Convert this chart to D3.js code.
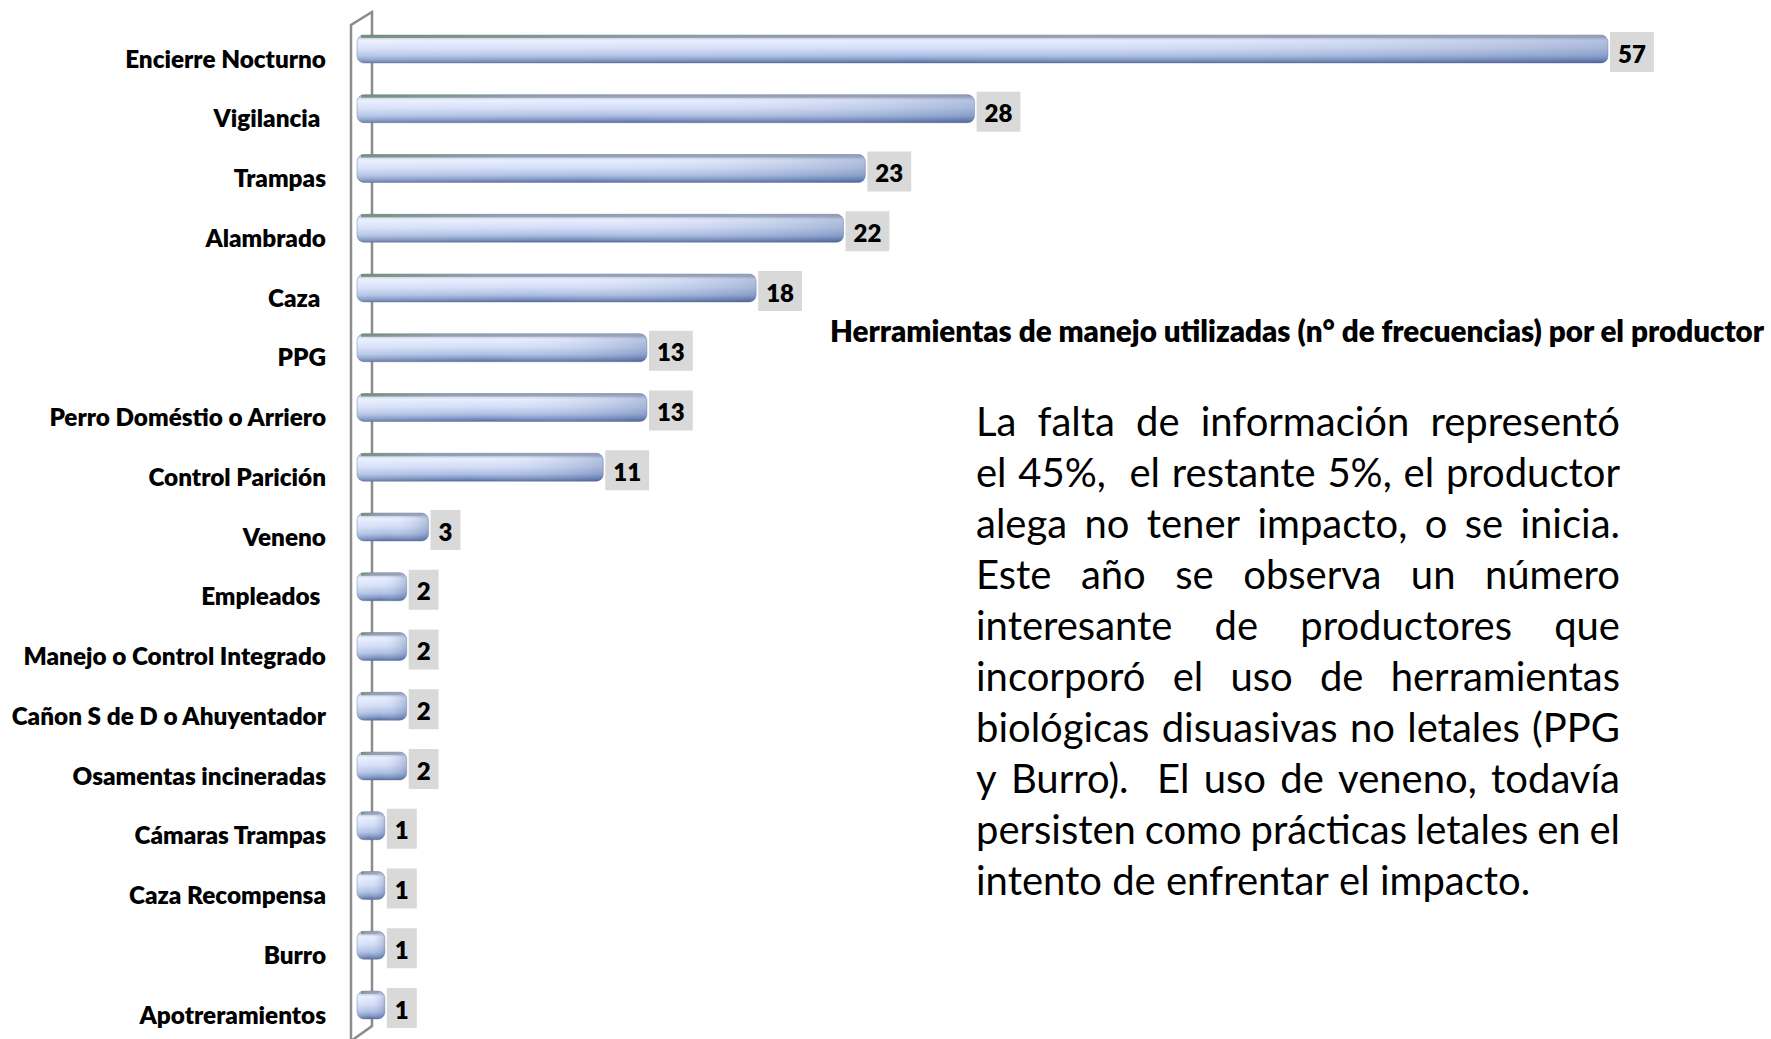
<!DOCTYPE html>
<html>
<head>
<meta charset="utf-8">
<script src="https://cdn.jsdelivr.net/npm/d3@7"></script>
<style>
  body{margin:0;background:#fff;}
  text{font-family:Lato,'Open Sans',sans-serif;white-space:pre;}
</style>
</head>
<body>
<svg class="graph"></svg>
<script>
// tools and how often producers used them
let categories=['Encierre Nocturno','Vigilancia ','Trampas','Alambrado','Caza ','PPG',
  'Perro Doméstio o Arriero','Control Parición','Veneno','Empleados ',
  'Manejo o Control Integrado','Cañon S de D o Ahuyentador','Osamentas incineradas',
  'Cámaras Trampas','Caza Recompensa','Burro','Apotreramientos']
let values=[57,28,23,22,18,13,13,11,3,2,2,2,2,1,1,1,1]
let chartTitle='Herramientas de manejo utilizadas (n° de frecuencias) por el productor'
let noteLines=[
  'La falta de información representó',
  'el 45%,  el restante 5%, el productor',
  'alega no tener impacto, o se inicia.',
  'Este año se observa un número',
  'interesante de productores que',
  'incorporó el uso de herramientas',
  'biológicas disuasivas no letales (PPG',
  'y Burro).  El uso de veneno, todavía',
  'persisten como prácticas letales en el',
  'intento de enfrentar el impacto.'
]

let width=1771, height=1039
let svg=d3.select('.graph').attr('width',width).attr('height',height)

let xscale=d3.scaleLinear().domain([0,57]).range([363,1608])
let yscale=d3.scalePoint().domain(d3.range(categories.length)).range([49,1005])
let barH=28

let defs=svg.append('defs')
// vertical shading of the cylinder
let vg=defs.append('linearGradient').attr('id','barV')
  .attr('x1','0%').attr('y1','0%').attr('x2','0%').attr('y2','100%')
;[['0%','#939db5'],['9%','#c2cce6'],['20%','#e8eeff'],['48%','#d3ddf7'],
  ['74%','#adbfe2'],['89%','#7e95c4'],['100%','#56699a']].forEach(s=>{
  vg.append('stop').attr('offset',s[0]).attr('stop-color',s[1])
})
// light on the left, darker to the right
let hg=defs.append('linearGradient').attr('id','barH')
  .attr('x1','0%').attr('y1','0%').attr('x2','100%').attr('y2','0%')
hg.append('stop').attr('offset','0%').attr('stop-color','#ffffff').attr('stop-opacity',0.15)
hg.append('stop').attr('offset','45%').attr('stop-color','#ffffff').attr('stop-opacity',0)
hg.append('stop').attr('offset','100%').attr('stop-color','#2e4c88').attr('stop-opacity',0.28)
// top rim, greenish at left
let tg=defs.append('linearGradient').attr('id','barTop')
  .attr('x1','0%').attr('y1','0%').attr('x2','100%').attr('y2','0%')
tg.append('stop').attr('offset','0%').attr('stop-color','#6b8a68')
tg.append('stop').attr('offset','30%').attr('stop-color','#8d9aa8')
tg.append('stop').attr('offset','100%').attr('stop-color','#98a1b8')

// the wall (left axis drawn in perspective)
let front=xscale(0)-12, back=xscale(0)+9
svg.append('path')
  .attr('d',`M${front},${height+2} L${front},25 L${back},12 L${back},1026 L${front},${height+2}`)
  .attr('fill','none').attr('stroke','#8c8c8c').attr('stroke-width',2.5)

let bars=svg.selectAll('.bar').data(values).join('g').attr('class','bar')
bars.append('rect')
  .attr('x',xscale(0)-6).attr('y',(d,i)=>yscale(i)-barH/2)
  .attr('width',d=>xscale(d)-xscale(0)+6).attr('height',barH)
  .attr('rx',7).attr('fill','url(#barV)')
bars.append('rect')
  .attr('x',xscale(0)-6).attr('y',(d,i)=>yscale(i)-barH/2)
  .attr('width',d=>xscale(d)-xscale(0)+6).attr('height',barH)
  .attr('rx',7).attr('fill','url(#barH)')
  .attr('stroke','#5d709a').attr('stroke-opacity',0.4).attr('stroke-width',1)
bars.append('rect')
  .attr('x',xscale(0)-2).attr('y',(d,i)=>yscale(i)-barH/2)
  .attr('width',d=>Math.max(0,xscale(d)-xscale(0)-4)).attr('height',3)
  .attr('fill','url(#barTop)').attr('opacity',0.85)

// value boxes
bars.each(function(d,i){
  let g=d3.select(this)
  let t=g.append('text').text(d)
    .attr('font-weight',800).attr('font-size',24).attr('fill','#000')
    .attr('text-anchor','middle').attr('dominant-baseline','central')
  let tw=t.node().getComputedTextLength()
  let bw=tw+16, bx=xscale(d)+2, cy=yscale(i)+3
  g.insert('rect','text').attr('x',bx).attr('y',cy-20).attr('width',bw).attr('height',40)
    .attr('fill','#d9d9d9')
  t.attr('x',bx+bw/2).attr('y',cy+1)
})

// category labels
svg.selectAll('.catlabel').data(categories).join('text')
  .attr('class','catlabel')
  .attr('x',326).attr('y',(d,i)=>yscale(i)+9)
  .attr('text-anchor','end').attr('dominant-baseline','central')
  .attr('font-weight',800).attr('font-size',24.3).attr('fill','#000')
  .text(d=>d)

// chart title
svg.append('text').attr('x',830).attr('y',330)
  .attr('dominant-baseline','central')
  .attr('font-weight',800).attr('font-size',29.6).attr('fill','#000')
  .text(chartTitle)

// justified note
let noteLeft=976, noteRight=1620, noteTop=436, lineGap=51, noteSize=40
let note=svg.append('g').attr('class','note')
noteLines.forEach((line,li)=>{
  let y=noteTop+li*lineGap
  let words=line.split(' ')
  let probe=note.append('text').attr('font-size',noteSize).text(' ')
  let sp=probe.node().getComputedTextLength()
  probe.remove()
  let widths=words.map(w=>{
    if(w==='') return 0
    let p=note.append('text').attr('font-size',noteSize).text(w)
    let wd=p.node().getComputedTextLength()
    p.remove()
    return wd
  })
  let gaps=words.length-1
  let natural=d3.sum(widths)+gaps*sp
  let gap=(li<noteLines.length-1 && gaps>0)? Math.max(sp*0.4,sp+(noteRight-noteLeft-natural)/gaps) : sp
  let x=noteLeft
  let t=note.append('text').attr('font-size',noteSize).attr('fill','#000').attr('y',y)
  words.forEach((w,wi)=>{
    if(w!=='') t.append('tspan').attr('x',x).attr('y',y).text(w)
    x+=widths[wi]+gap
  })
})
</script>
</body>
</html>
